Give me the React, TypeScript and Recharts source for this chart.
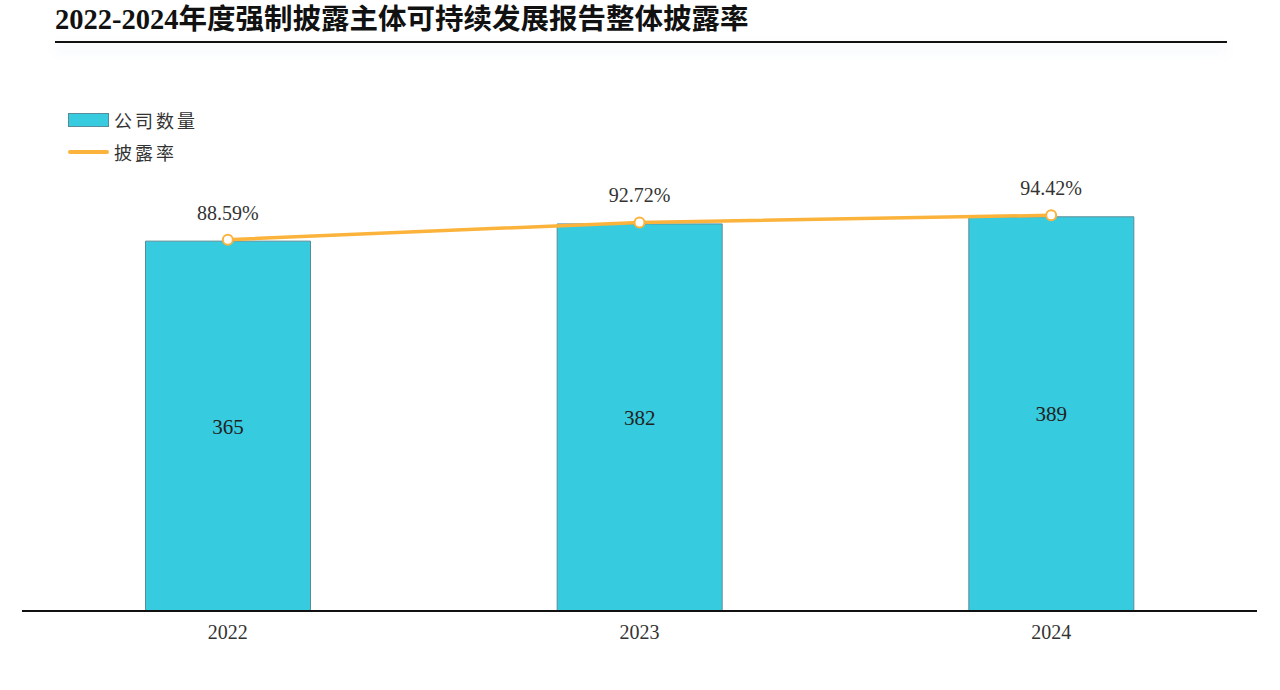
import {
  ComposedChart, Bar, Line, XAxis, YAxis, LabelList,
} from "recharts"

const years = ["2022", "2023", "2024"]
const companyCounts = [365, 382, 389]
const disclosureRates = [88.59, 92.72, 94.42]

const BAR_FILL = "#37CBDF"
const BAR_STROKE = "#5A8C97"
const LINE_COLOR = "#FBB33B"
const SERIF = "'Liberation Serif', 'Times New Roman', 'Noto Sans CJK SC', serif"
const CJK = "'Noto Sans CJK SC', sans-serif"

const data = years.map((y, i) => ({
  year: y,
  count: companyCounts[i],
  rate: disclosureRates[i],
}))

function LegendBox() {
  return (
    <div
      style={{
        position: "absolute", left: 68, top: 104,
        fontFamily: CJK, fontSize: 18, color: "#333", letterSpacing: 3,
      }}
    >
      <div style={{ display: "flex", alignItems: "center", height: 32 }}>
        <span
          style={{
            width: 39, height: 12, background: BAR_FILL,
            border: `1px solid ${BAR_STROKE}`, marginRight: 5,
          }}
        />
        <span>公司数量</span>
      </div>
      <div style={{ display: "flex", alignItems: "center", height: 32 }}>
        <span
          style={{
            width: 41, height: 4, background: LINE_COLOR,
            borderRadius: 2, marginRight: 5,
          }}
        />
        <span>披露率</span>
      </div>
    </div>
  )
}

export default function App() {
  return (
    <div
      style={{
        position: "absolute", left: 0, top: 0, width: 1280, height: 690,
        background: "#fff", overflow: "hidden",
      }}
    >
      <div
        style={{
          position: "absolute", left: 55, top: 2, fontFamily: SERIF,
          fontWeight: 700, fontSize: 28.5, color: "#111", whiteSpace: "nowrap",
          lineHeight: "36px",
        }}
      >
        2022-2024年度强制披露主体可持续发展报告整体披露率
      </div>
      <div
        style={{
          position: "absolute", left: 55, top: 41, width: 1172, height: 2,
          background: "#111", boxShadow: "0 7px 12px rgba(110,140,220,0.22)",
        }}
      />
      <div style={{ position: "absolute", left: 0, top: 0 }}>
        <ComposedChart
          width={1280}
          height={690}
          data={data}
          margin={{ top: 155, right: 23, left: 22, bottom: 49 }}
          barCategoryGap="30%"
        >
          <XAxis
            dataKey="year"
            height={30}
            tickLine={false}
            tickMargin={8}
            axisLine={{ stroke: "#111", strokeWidth: 2 }}
            tick={{ fill: "#333", fontSize: 20, fontFamily: SERIF }}
          />
          <YAxis yAxisId="left" hide width={0} domain={[0, 450]} />
          <YAxis yAxisId="right" hide width={0} orientation="right" domain={[0, 108.8]} />
          <Bar
            yAxisId="left"
            dataKey="count"
            fill={BAR_FILL}
            stroke={BAR_STROKE}
            strokeWidth={1}
            isAnimationActive={false}
          >
            <LabelList
              dataKey="count"
              position="center"
              fill="#222"
              fontSize={21}
              fontFamily={SERIF}
            />
          </Bar>
          <Line
            yAxisId="right"
            dataKey="rate"
            type="linear"
            stroke={LINE_COLOR}
            strokeWidth={3.5}
            dot={{ r: 5, fill: "#fff", stroke: LINE_COLOR, strokeWidth: 2 }}
            activeDot={false}
            isAnimationActive={false}
          >
            <LabelList
              dataKey="rate"
              position="top"
              offset={20}
              fill="#333"
              fontSize={20}
              fontFamily={SERIF}
              formatter={(v: number) => `${v.toFixed(2)}%`}
            />
          </Line>
        </ComposedChart>
      </div>
      <LegendBox />
    </div>
  )
}
